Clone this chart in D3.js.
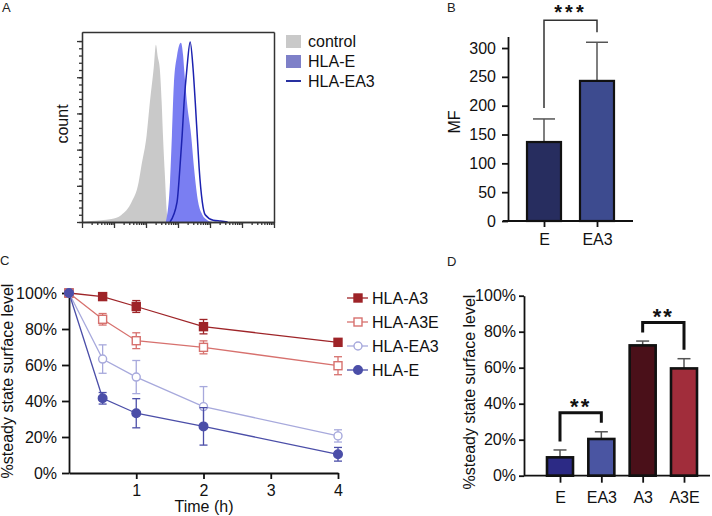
<!DOCTYPE html>
<html><head><meta charset="utf-8">
<script src="https://cdn.jsdelivr.net/npm/d3@7"></script>
<style>
body{margin:0;background:#fff;}
svg{font-family:"Liberation Sans",Arial,Helvetica,sans-serif;}
</style></head><body>
<svg id="chart" width="712" height="516"></svg>
<script>
// ---------- Panel A: flow histograms (log10 intensity, count) ----------
const histDecades = [0,1,2,3,4,5,6];
const histCountTicks = [0,20,40,60,80,100];
const histLegend = ["control","HLA-E","HLA-EA3"];
const controlLog   = [0,0.28,0.92,1.23,1.55,1.77,1.86,2.02,2.12,2.24,2.31,2.37,2.43,2.49,2.53,2.59,2.65,2.68];
const controlCount = [0,0.5,1.7,3.9,11,22,31.5,48,66,85,98,91,85,66,48,26,5.5,0];
const hlaELog      = [2.62,2.75,2.81,2.87,2.97,3.09,3.16,3.19,3.28,3.41,3.50,3.63,3.76,3.92,4.07];
const hlaECount    = [0,22,48,76,92,99,92,85,66,48,30,11,4,1,0];
const hlaEA3Log    = [2.75,2.97,3.06,3.13,3.19,3.28,3.38,3.47,3.54,3.60,3.66,3.76,3.85,4.10,4.33,4.55];
const hlaEA3Count  = [0,11,30,48,66,85,99.5,85,66,48,30,11,4,1,0.5,0];

// ---------- Panel B: MF bars ----------
const mfCategories = ["E","EA3"];
const mfValues = [137,243];
const mfErrors = [40,67];
const mfTicks = [0,50,100,150,200,250,300];
const mfSig = "***";

// ---------- Panel C: time course ----------
const timePoints = [0,0.5,1,2,4];
const timeTicks = [1,2,3,4];
const pctTicks = [0,20,40,60,80,100];
const seriesNames = ["HLA-A3","HLA-A3E","HLA-EA3","HLA-E"];
const a3Values  = [100,98,92.5,81.3,72.6];
const a3Errors  = [0,1.7,3.3,4,0.8];
const a3eValues = [100,85.4,73.5,69.8,59.6];
const a3eErrors = [0,3.2,4.4,3.6,5];
const ea3Values = [100,63.3,53.3,36.9,20.6];
const ea3Errors = [0,7.9,9.2,11.1,3.4];
const eValues   = [100,41.5,33.2,25.9,10.4];
const eErrors   = [0,3.2,8.1,10.4,3.8];

// ---------- Panel D: 4 h bars ----------
const dCategories = ["E","EA3","A3","A3E"];
const dValues = [10.2,20.4,72.4,59.6];
const dErrors = [4.1,4.0,2.4,5.4];
const dSig = [["E","EA3","**"],["A3","A3E","**"]];

const svg = d3.select("#chart");
const fmtPct = d => d + "%";

function panelLetter(t,x,y){
  svg.append("text").attr("x",x).attr("y",y).attr("font-size",13).attr("fill","#222").text(t);
}
function styleAxis(g,w,c){
  g.selectAll("path,line").attr("stroke",c||"#111").attr("stroke-width",w);
  g.selectAll("text").attr("font-size",16).attr("fill","#111").attr("font-family","Liberation Sans, Arial, sans-serif");
}

// ================= Panel A =================
panelLetter("A",2,12);
{
  const x = d3.scaleLinear().domain([0,6]).range([82,274]);
  const y = d3.scaleLinear().domain([0,105]).range([222,32]);
  const g = svg.append("g");
  const area = d3.area().x(d=>x(d[0])).y0(y(0)).y1(d=>y(d[1])).curve(d3.curveMonotoneX);
  const line = d3.line().x(d=>x(d[0])).y(d=>y(d[1])).curve(d3.curveMonotoneX);
  g.append("path").datum(d3.zip(controlLog,controlCount)).attr("d",area).attr("fill","#c9c9c9");
  g.append("path").datum(d3.zip(hlaELog,hlaECount)).attr("d",area).attr("fill","#7a7ef2");
  g.append("path").datum(d3.zip(hlaEA3Log,hlaEA3Count)).attr("d",line).attr("fill","none")
    .attr("stroke","#1c22b0").attr("stroke-width",1.5);
  // minor ticks
  const yMinor = d3.range(0,101,4);
  const xMinor = [];
  histDecades.slice(0,-1).forEach(d=>{ for(let k=2;k<10;k++) xMinor.push(d+Math.log10(k)); });
  const axL = svg.append("g").attr("transform","translate(82,0)")
    .call(d3.axisLeft(y).tickValues(yMinor).tickSize(3).tickFormat("").tickSizeOuter(0));
  styleAxis(axL,1.3,"#333");
  const axL2 = svg.append("g").attr("transform","translate(82,0)")
    .call(d3.axisLeft(y).tickValues(histCountTicks).tickSize(5).tickFormat("").tickSizeOuter(0));
  styleAxis(axL2,1.3,"#333");
  const axB = svg.append("g").attr("transform","translate(0,222)")
    .call(d3.axisBottom(x).tickValues(xMinor).tickSize(3).tickFormat("").tickSizeOuter(0));
  styleAxis(axB,1.3,"#333");
  const axB2 = svg.append("g").attr("transform","translate(0,222)")
    .call(d3.axisBottom(x).tickValues(histDecades).tickSize(6).tickFormat("").tickSizeOuter(0));
  styleAxis(axB2,1.3,"#333");
  const axT = svg.append("g").attr("transform","translate(0,32)")
    .call(d3.axisTop(x).tickValues([]).tickSizeOuter(0));
  styleAxis(axT,1.5,"#333");
  const axR = svg.append("g").attr("transform","translate(274,0)")
    .call(d3.axisRight(y).tickValues([]).tickSizeOuter(0));
  styleAxis(axR,1.5,"#333");
  svg.append("text").attr("transform","translate(68,124) rotate(-90)").attr("text-anchor","middle")
    .attr("font-size",16).attr("fill","#111").text("count");
  // legend
  const lg = svg.append("g");
  lg.append("rect").attr("x",286).attr("y",35).attr("width",15).attr("height",13).attr("fill","#c9c9c9");
  lg.append("rect").attr("x",286).attr("y",55).attr("width",15).attr("height",13).attr("fill","#7e80c8");
  lg.append("line").attr("x1",286).attr("x2",301).attr("y1",81).attr("y2",81).attr("stroke","#2830a0").attr("stroke-width",2);
  lg.selectAll("text").data(histLegend).join("text")
    .attr("x",308).attr("y",(d,i)=>[47,67,87][i]).attr("font-size",16).attr("fill","#111").text(d=>d);
}

// ================= Panel B =================
panelLetter("B",447,12);
{
  const x = d3.scalePoint().domain(mfCategories).range([544,597]);
  const y = d3.scaleLinear().domain([0,320]).range([221,36.5]);
  const colors = ["#272d5f","#3d4b8f"];
  const bw = 34;
  const g = svg.append("g");
  mfCategories.forEach((c,i)=>{
    const top = y(mfValues[i]+mfErrors[i]);
    g.append("line").attr("x1",x(c)).attr("x2",x(c)).attr("y1",y(mfValues[i])).attr("y2",top).attr("stroke","#555").attr("stroke-width",1.5);
    g.append("line").attr("x1",x(c)-11).attr("x2",x(c)+11).attr("y1",top).attr("y2",top).attr("stroke","#555").attr("stroke-width",1.5);
  });
  g.selectAll("rect").data(mfCategories).join("rect")
    .attr("x",d=>x(d)-bw/2).attr("width",bw)
    .attr("y",(d,i)=>y(mfValues[i])).attr("height",(d,i)=>y(0)-y(mfValues[i]))
    .attr("fill",(d,i)=>colors[i]).attr("stroke","#111").attr("stroke-width",2.2);
  const ay = svg.append("g").attr("transform","translate(508,0)")
    .call(d3.axisLeft(y).tickValues(mfTicks).tickSize(6).tickPadding(6).tickSizeOuter(0));
  styleAxis(ay,1.8);
  svg.append("line").attr("x1",503).attr("x2",633).attr("y1",221).attr("y2",221).attr("stroke","#111").attr("stroke-width",1.8);
  const ax = svg.append("g").attr("transform","translate(0,221)")
    .call(d3.axisBottom(x).tickSize(6).tickPadding(6.5).tickSizeOuter(0));
  ax.select(".domain").remove();
  styleAxis(ax,1.8);
  svg.append("text").attr("transform","translate(460,122) rotate(-90)").attr("text-anchor","middle")
    .attr("font-size",16).attr("fill","#111").text("MF");
  const t0 = y(mfValues[0]+mfErrors[0]) - 11, t1 = y(mfValues[1]+mfErrors[1]) - 10;
  const top = Math.min(t0,t1) - 12;
  svg.append("path").attr("d",`M${x("E")},${t0}V${top}H${x("EA3")}V${t1}`)
    .attr("fill","none").attr("stroke","#333").attr("stroke-width",1.5);
  svg.append("text").attr("x",(x("E")+x("EA3"))/2).attr("y",top-1).attr("text-anchor","middle")
    .attr("font-size",20).attr("font-weight","bold").attr("letter-spacing",3).attr("fill","#111").text(mfSig);
}

// ================= Panel C =================
panelLetter("C",0,265);
{
  const x = d3.scaleLinear().domain([0,4]).range([69,338]);
  const y = d3.scaleLinear().domain([0,100]).range([473,293]);
  const colors = ["#9e2428","#d7716e","#a7a9dc","#4b4ea8"];
  const shapes = ["square","square","circle","circle"];
  const filled = [true,false,false,true];
  const vals = [a3Values,a3eValues,ea3Values,eValues];
  const errs = [a3Errors,a3eErrors,ea3Errors,eErrors];
  const ay = svg.append("g").attr("transform","translate(69,0)")
    .call(d3.axisLeft(y).tickValues(pctTicks).tickFormat(fmtPct).tickSize(7).tickPadding(5).tickSizeOuter(0));
  styleAxis(ay,1.8);
  const ax = svg.append("g").attr("transform","translate(0,473)")
    .call(d3.axisBottom(x).tickValues(timeTicks).tickFormat(d3.format("d")).tickSize(6).tickPadding(5.5).tickSizeOuter(0));
  styleAxis(ax,1.8);
  function marker(g,shape,fill,color,cx,cy){
    if(shape==="square"){
      g.append("rect").attr("x",cx-4).attr("y",cy-4).attr("width",8).attr("height",8)
        .attr("fill",fill?color:"#fff").attr("stroke",color).attr("stroke-width",1.4);
    } else {
      g.append("circle").attr("cx",cx).attr("cy",cy).attr("r",fill?4.3:4)
        .attr("fill",fill?color:"#fff").attr("stroke",color).attr("stroke-width",1.4);
    }
  }
  const line = d3.line().x(d=>x(d[0])).y(d=>y(d[1]));
  seriesNames.forEach((name,s)=>{
    const g = svg.append("g");
    const pts = d3.zip(timePoints,vals[s]);
    g.append("path").datum(pts).attr("d",line).attr("fill","none").attr("stroke",colors[s]).attr("stroke-width",1.3);
    pts.forEach((p,i)=>{
      const e = errs[s][i];
      if(e>0){
        const cx=x(p[0]), y1=y(p[1]+e), y2=y(p[1]-e);
        g.append("line").attr("x1",cx).attr("x2",cx).attr("y1",y1).attr("y2",y2).attr("stroke",colors[s]).attr("stroke-width",1.3);
        [y1,y2].forEach(yy=>g.append("line").attr("x1",cx-4).attr("x2",cx+4).attr("y1",yy).attr("y2",yy).attr("stroke",colors[s]).attr("stroke-width",1.3));
      }
      marker(g,shapes[s],filled[s],colors[s],x(p[0]),y(p[1]));
    });
  });
  const rowY = [298,322,346,370];
  seriesNames.forEach((name,s)=>{
    const g = svg.append("g");
    g.append("line").attr("x1",347).attr("x2",368).attr("y1",rowY[s]).attr("y2",rowY[s]).attr("stroke",colors[s]).attr("stroke-width",1.3);
    marker(g,shapes[s],filled[s],colors[s],358,rowY[s]);
    g.append("text").attr("x",372).attr("y",rowY[s]+5.8).attr("font-size",16).attr("fill","#111").text(name);
  });
  svg.append("text").attr("transform","translate(12.5,381) rotate(-90)").attr("text-anchor","middle")
    .attr("font-size",16).attr("fill","#111").text("%steady state surface level");
  svg.append("text").attr("x",204).attr("y",512).attr("text-anchor","middle")
    .attr("font-size",16).attr("fill","#111").text("Time (h)");
}

// ================= Panel D =================
panelLetter("D",447,266);
{
  const x = d3.scalePoint().domain(dCategories).range([560,684]);
  const y = d3.scaleLinear().domain([0,100]).range([475.7,295.7]);
  const colors = ["#2c2a85","#4a55a2","#4a1019","#a12d3b"];
  const bw = 26;
  const g = svg.append("g");
  dCategories.forEach((c,i)=>{
    const top = y(dValues[i]+dErrors[i]);
    g.append("line").attr("x1",x(c)).attr("x2",x(c)).attr("y1",y(dValues[i])).attr("y2",top).attr("stroke","#555").attr("stroke-width",1.5);
    g.append("line").attr("x1",x(c)-6.5).attr("x2",x(c)+6.5).attr("y1",top).attr("y2",top).attr("stroke","#555").attr("stroke-width",1.5);
  });
  g.selectAll("rect").data(dCategories).join("rect")
    .attr("x",d=>x(d)-bw/2).attr("width",bw)
    .attr("y",(d,i)=>y(dValues[i])).attr("height",(d,i)=>y(0)-y(dValues[i]))
    .attr("fill",(d,i)=>colors[i]).attr("stroke","#111").attr("stroke-width",2.6);
  const ay = svg.append("g").attr("transform","translate(524,0)")
    .call(d3.axisLeft(y).tickValues(pctTicks).tickFormat(fmtPct).tickSize(5).tickPadding(3).tickSizeOuter(0));
  styleAxis(ay,1.8);
  svg.append("line").attr("x1",524).attr("x2",710).attr("y1",475.7).attr("y2",475.7).attr("stroke","#111").attr("stroke-width",1.8);
  const ax = svg.append("g").attr("transform","translate(0,475.7)")
    .call(d3.axisBottom(x).tickSize(7).tickPadding(8.5).tickSizeOuter(0));
  ax.select(".domain").remove();
  styleAxis(ax,1.8);
  svg.append("text").attr("transform","translate(475,392) rotate(-90)").attr("text-anchor","middle")
    .attr("font-size",16).attr("fill","#111").text("%steady state surface level");
  dSig.forEach(([a,b,lab])=>{
    const ia = dCategories.indexOf(a), ib = dCategories.indexOf(b);
    const ta = y(dValues[ia]+dErrors[ia]) - 8.5, tb = y(dValues[ib]+dErrors[ib]) - 9;
    const top = Math.min(ta,tb) - 10;
    svg.append("path").attr("d",`M${x(a)},${ta}V${top}H${x(b)}V${tb}`)
      .attr("fill","none").attr("stroke","#111").attr("stroke-width",3);
    svg.append("text").attr("x",(x(a)+x(b))/2).attr("y",top+1).attr("text-anchor","middle")
      .attr("font-size",22).attr("font-weight","bold").attr("letter-spacing",2).attr("fill","#111").text(lab);
  });
}
</script>
</body></html>
